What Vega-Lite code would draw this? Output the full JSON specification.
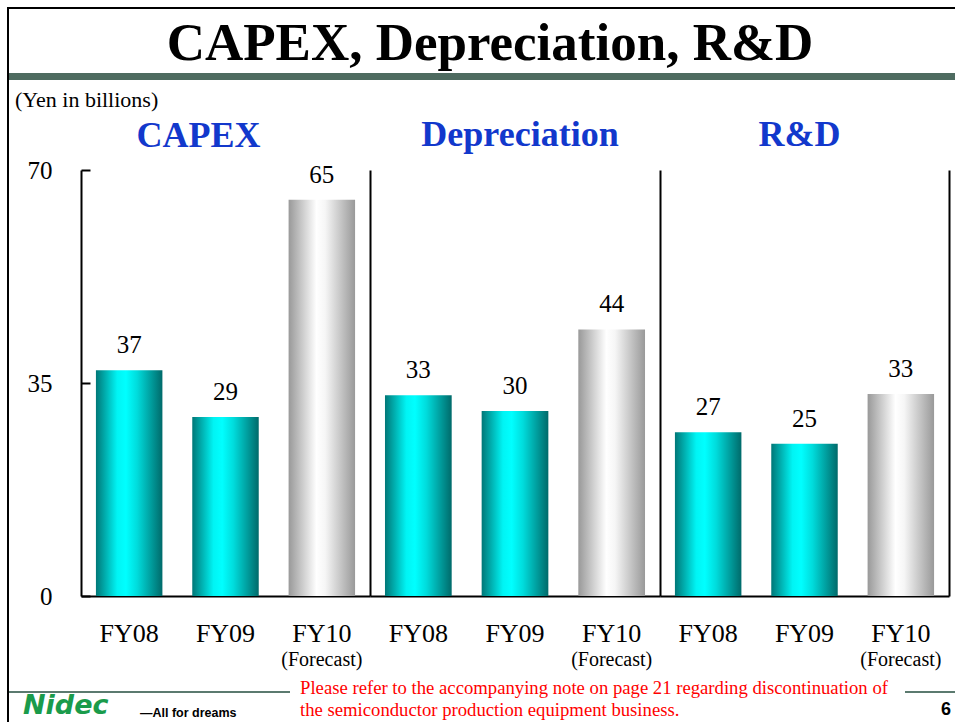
{
  "$schema": "https://vega.github.io/schema/vega-lite/v6.json",
  "background": "white",
  "padding": {"left": 7, "top": 7, "right": 0, "bottom": 0},
  "config": {"view": {"stroke": null}},
  "datasets": {
    "spend": [
      {"metric": "CAPEX", "year": "FY08", "value": 37.1, "status": "Actual", "note": ""},
      {"metric": "CAPEX", "year": "FY09", "value": 29.4, "status": "Actual", "note": ""},
      {"metric": "CAPEX", "year": "FY10", "value": 65.1, "status": "Forecast", "note": "(Forecast)"},
      {"metric": "Depreciation", "year": "FY08", "value": 33.0, "status": "Actual", "note": ""},
      {"metric": "Depreciation", "year": "FY09", "value": 30.4, "status": "Actual", "note": ""},
      {"metric": "Depreciation", "year": "FY10", "value": 43.8, "status": "Forecast", "note": "(Forecast)"},
      {"metric": "R&D", "year": "FY08", "value": 26.9, "status": "Actual", "note": ""},
      {"metric": "R&D", "year": "FY09", "value": 25.0, "status": "Actual", "note": ""},
      {"metric": "R&D", "year": "FY10", "value": 33.2, "status": "Forecast", "note": "(Forecast)"}
    ]
  },
  "spacing": 0,
  "hconcat": [
    {
      "width": 2, "height": 720,
      "data": {"values": [{}]},
      "mark": {"type": "rect", "color": "#000000"},
      "encoding": {}
    },
    {
      "spacing": 9,
      "vconcat": [
        {
          "width": 946, "height": 2,
          "data": {"values": [{}]},
          "mark": {"type": "rect", "color": "#000000"},
          "encoding": {}
        },
        {
          "width": 946, "height": 7,
          "title": {"text": "CAPEX, Depreciation, R&D", "fontSize": 53, "font": "Liberation Serif", "fontWeight": "bold", "color": "#000000", "anchor": "middle", "offset": 2, "dx": 8},
          "data": {"values": [{}]},
          "mark": {"type": "rect", "color": "#4e6b60"},
          "encoding": {}
        },
        {
          "title": {"text": "(Yen in billions)", "anchor": "start", "dx": 6, "offset": 5, "fontSize": 22, "font": "Liberation Serif", "fontWeight": "normal", "color": "#000000"},
          "spacing": 0,
          "hconcat": [
            {
              "width": 18, "height": 426,
              "data": {"values": [{}]},
              "mark": {"type": "rect", "color": "#ffffff"},
              "encoding": {}
            },
            {
              "width": 289, "height": 426,
              "title": {"text": "CAPEX", "fontSize": 36, "font": "Liberation Serif", "fontWeight": "bold", "color": "#1238cc", "anchor": "middle", "offset": 3, "dx": -27},
              "data": {"name": "spend"},
              "transform": [{"filter": "datum.metric === 'CAPEX'"}],
              "encoding": {
                "x": {"field": "year", "type": "nominal", "sort": ["FY08", "FY09", "FY10"], "scale": {"paddingInner": 0.31, "paddingOuter": 0.155}, "axis": {"title": null, "domain": true, "domainColor": "#000000", "domainWidth": 2, "ticks": false, "grid": false, "labelAngle": 0, "labelFont": "Liberation Serif", "labelFontSize": 26, "labelColor": "#000000", "labelPadding": 24}}
              },
              "layer": [
                {
                  "mark": {"type": "bar"},
                  "encoding": {
                    "y": {"field": "value", "type": "quantitative", "scale": {"domain": [0, 70], "nice": false}, "axis": {"title": null, "values": [0, 35, 70], "domain": true, "domainColor": "#000000", "domainWidth": 2, "ticks": true, "tickSize": -9, "tickWidth": 2, "tickColor": "#000000", "grid": false, "labelFont": "Liberation Serif", "labelFontSize": 25, "labelColor": "#000000", "labelPadding": 38}},
                    "color": {
                      "condition": {"test": "datum.status === 'Forecast'", "value": {"gradient": "linear", "x1": 0, "x2": 1, "y1": 0, "y2": 0, "stops": [{"offset": 0, "color": "#999999"}, {"offset": 0.42, "color": "#ffffff"}, {"offset": 0.55, "color": "#f6f6f6"}, {"offset": 1, "color": "#999999"}]}},
                      "value": {"gradient": "linear", "x1": 0, "x2": 1, "y1": 0, "y2": 0, "stops": [{"offset": 0, "color": "#007777"}, {"offset": 0.32, "color": "#00f4f4"}, {"offset": 0.45, "color": "#00ffff"}, {"offset": 0.62, "color": "#00dcdc"}, {"offset": 1, "color": "#006a6a"}]}
                    }
                  }
                },
                {
                  "mark": {"type": "text", "fontSize": 25, "font": "Liberation Serif", "baseline": "alphabetic", "dy": -17, "color": "#000000"},
                  "encoding": {
                    "y": {"field": "value", "type": "quantitative", "scale": {"domain": [0, 70], "nice": false}, "axis": {"title": null, "values": [0, 35, 70], "domain": true, "domainColor": "#000000", "domainWidth": 2, "ticks": true, "tickSize": -9, "tickWidth": 2, "tickColor": "#000000", "grid": false, "labelFont": "Liberation Serif", "labelFontSize": 25, "labelColor": "#000000", "labelPadding": 38}},
                    "text": {"field": "value", "type": "quantitative", "format": ".0f"}
                  }
                },
                {
                  "transform": [{"filter": "datum.status === 'Forecast'"}],
                  "mark": {"type": "text", "fontSize": 20, "font": "Liberation Serif", "baseline": "alphabetic", "dy": 70, "color": "#000000"},
                  "encoding": {
                    "y": {"datum": 0, "type": "quantitative", "scale": {"domain": [0, 70], "nice": false}, "axis": {"title": null, "values": [0, 35, 70], "domain": true, "domainColor": "#000000", "domainWidth": 2, "ticks": true, "tickSize": -9, "tickWidth": 2, "tickColor": "#000000", "grid": false, "labelFont": "Liberation Serif", "labelFontSize": 25, "labelColor": "#000000", "labelPadding": 38}},
                    "text": {"field": "note", "type": "nominal"}
                  }
                }
              ]
            },
            {
              "width": 290, "height": 426,
              "title": {"text": "Depreciation", "fontSize": 36, "font": "Liberation Serif", "fontWeight": "bold", "color": "#1238cc", "anchor": "middle", "offset": 16, "dx": 5},
              "data": {"name": "spend"},
              "transform": [{"filter": "datum.metric === 'Depreciation'"}],
              "encoding": {
                "x": {"field": "year", "type": "nominal", "sort": ["FY08", "FY09", "FY10"], "scale": {"paddingInner": 0.31, "paddingOuter": 0.155}, "axis": {"title": null, "domain": true, "domainColor": "#000000", "domainWidth": 2, "ticks": false, "grid": false, "labelAngle": 0, "labelFont": "Liberation Serif", "labelFontSize": 26, "labelColor": "#000000", "labelPadding": 24}}
              },
              "layer": [
                {
                  "mark": {"type": "bar"},
                  "encoding": {
                    "y": {"field": "value", "type": "quantitative", "scale": {"domain": [0, 70], "nice": false}, "axis": {"title": null, "domain": true, "domainColor": "#000000", "domainWidth": 2, "ticks": false, "labels": false, "grid": false}},
                    "color": {
                      "condition": {"test": "datum.status === 'Forecast'", "value": {"gradient": "linear", "x1": 0, "x2": 1, "y1": 0, "y2": 0, "stops": [{"offset": 0, "color": "#999999"}, {"offset": 0.42, "color": "#ffffff"}, {"offset": 0.55, "color": "#f6f6f6"}, {"offset": 1, "color": "#999999"}]}},
                      "value": {"gradient": "linear", "x1": 0, "x2": 1, "y1": 0, "y2": 0, "stops": [{"offset": 0, "color": "#007777"}, {"offset": 0.32, "color": "#00f4f4"}, {"offset": 0.45, "color": "#00ffff"}, {"offset": 0.62, "color": "#00dcdc"}, {"offset": 1, "color": "#006a6a"}]}
                    }
                  }
                },
                {
                  "mark": {"type": "text", "fontSize": 25, "font": "Liberation Serif", "baseline": "alphabetic", "dy": -17, "color": "#000000"},
                  "encoding": {
                    "y": {"field": "value", "type": "quantitative", "scale": {"domain": [0, 70], "nice": false}, "axis": {"title": null, "domain": true, "domainColor": "#000000", "domainWidth": 2, "ticks": false, "labels": false, "grid": false}},
                    "text": {"field": "value", "type": "quantitative", "format": ".0f"}
                  }
                },
                {
                  "transform": [{"filter": "datum.status === 'Forecast'"}],
                  "mark": {"type": "text", "fontSize": 20, "font": "Liberation Serif", "baseline": "alphabetic", "dy": 70, "color": "#000000"},
                  "encoding": {
                    "y": {"datum": 0, "type": "quantitative", "scale": {"domain": [0, 70], "nice": false}, "axis": {"title": null, "domain": true, "domainColor": "#000000", "domainWidth": 2, "ticks": false, "labels": false, "grid": false}},
                    "text": {"field": "note", "type": "nominal"}
                  }
                }
              ]
            },
            {
              "width": 289, "height": 426,
              "title": {"text": "R&D", "fontSize": 36, "font": "Liberation Serif", "fontWeight": "bold", "color": "#1238cc", "anchor": "middle", "offset": 16, "dx": -5},
              "data": {"name": "spend"},
              "transform": [{"filter": "datum.metric === 'R&D'"}],
              "encoding": {
                "x": {"field": "year", "type": "nominal", "sort": ["FY08", "FY09", "FY10"], "scale": {"paddingInner": 0.31, "paddingOuter": 0.155}, "axis": {"title": null, "domain": true, "domainColor": "#000000", "domainWidth": 2, "ticks": false, "grid": false, "labelAngle": 0, "labelFont": "Liberation Serif", "labelFontSize": 26, "labelColor": "#000000", "labelPadding": 24}}
              },
              "layer": [
                {
                  "mark": {"type": "bar"},
                  "encoding": {
                    "y": {"field": "value", "type": "quantitative", "scale": {"domain": [0, 70], "nice": false}, "axis": {"title": null, "domain": true, "domainColor": "#000000", "domainWidth": 2, "ticks": false, "labels": false, "grid": false}},
                    "color": {
                      "condition": {"test": "datum.status === 'Forecast'", "value": {"gradient": "linear", "x1": 0, "x2": 1, "y1": 0, "y2": 0, "stops": [{"offset": 0, "color": "#999999"}, {"offset": 0.42, "color": "#ffffff"}, {"offset": 0.55, "color": "#f6f6f6"}, {"offset": 1, "color": "#999999"}]}},
                      "value": {"gradient": "linear", "x1": 0, "x2": 1, "y1": 0, "y2": 0, "stops": [{"offset": 0, "color": "#007777"}, {"offset": 0.32, "color": "#00f4f4"}, {"offset": 0.45, "color": "#00ffff"}, {"offset": 0.62, "color": "#00dcdc"}, {"offset": 1, "color": "#006a6a"}]}
                    }
                  }
                },
                {
                  "mark": {"type": "text", "fontSize": 25, "font": "Liberation Serif", "baseline": "alphabetic", "dy": -17, "color": "#000000"},
                  "encoding": {
                    "y": {"field": "value", "type": "quantitative", "scale": {"domain": [0, 70], "nice": false}, "axis": {"title": null, "orient": "right", "domain": true, "domainColor": "#000000", "domainWidth": 2, "ticks": false, "labels": false, "grid": false}},
                    "text": {"field": "value", "type": "quantitative", "format": ".0f"}
                  }
                },
                {
                  "transform": [{"filter": "datum.status === 'Forecast'"}],
                  "mark": {"type": "text", "fontSize": 20, "font": "Liberation Serif", "baseline": "alphabetic", "dy": 70, "color": "#000000"},
                  "encoding": {
                    "y": {"datum": 0, "type": "quantitative", "scale": {"domain": [0, 70], "nice": false}, "axis": null},
                    "text": {"field": "note", "type": "nominal"}
                  }
                }
              ],
              "resolve": {"scale": {"y": "independent"}}
            }
          ]
        },
        {
          "spacing": 0,
          "hconcat": [
            {
              "width": 126, "height": 2,
              "title": {"text": "Nidec", "orient": "bottom", "anchor": "start", "dx": 14, "offset": 0, "fontSize": 27, "font": "DejaVu Sans", "fontWeight": "bold", "fontStyle": "italic", "color": "#1a9b4b"},
              "data": {"values": [{}]},
              "mark": {"type": "rect", "color": "#5b7a6f"},
              "encoding": {}
            },
            {
              "width": 155, "height": 2,
              "title": {"text": "—All for dreams", "orient": "bottom", "anchor": "start", "dx": 5, "offset": 14, "fontSize": 12.5, "font": "Liberation Sans", "fontWeight": "bold", "color": "#000000"},
              "data": {"values": [{}]},
              "mark": {"type": "rect", "color": "#5b7a6f"},
              "encoding": {}
            },
            {
              "width": 615, "height": 2,
              "title": {"text": ["Please refer to the accompanying note on page 21 regarding discontinuation of", "the semiconductor production equipment business."], "orient": "bottom", "anchor": "start", "dx": 10, "offset": -14, "fontSize": 18.7, "lineHeight": 22, "font": "Liberation Serif", "fontWeight": "normal", "color": "#ff0000"},
              "data": {"values": [{}]},
              "mark": {"type": "rect", "color": "#ffffff"},
              "encoding": {}
            },
            {
              "width": 52, "height": 2,
              "title": {"text": "6", "orient": "bottom", "anchor": "end", "dx": -6, "offset": 8, "fontSize": 18, "font": "Liberation Sans", "fontWeight": "bold", "color": "#000000"},
              "data": {"values": [{}]},
              "mark": {"type": "rect", "color": "#5b7a6f"},
              "encoding": {}
            }
          ]
        }
      ]
    }
  ]
}
